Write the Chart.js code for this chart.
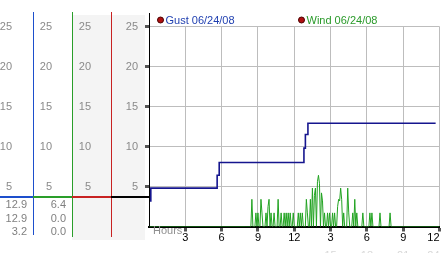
<!DOCTYPE html>
<html>
<head>
<meta charset="utf-8">
<script src="https://cdn.jsdelivr.net/npm/chart.js@4"></script>
<style>
  html, body { margin: 0; padding: 0; background: #fff; }
  #wrap { position: relative; width: 442px; height: 253px; }
</style>
</head>
<body>
<div id="wrap"><canvas id="chart"></canvas></div>
<script>
const gustLabel = "Gust 06/24/08";
const windLabel = "Wind 06/24/08";

// gust is a step line: hour where it changes -> new value
const gustHours = [0, 0.15, 5.63, 5.8, 12.8, 12.92, 13.13, 23.68];
const gustSpeeds = [3.2, 4.8, 6.4, 8.0, 9.8, 11.5, 12.9, 12.9];

// wind samples every 5 minutes starting 08:00, one row per hour
const windStartHour = 8;
const windStepHours = 5 / 60;
const windSamples = [
  0, 0, 0, 0, 0, 0, 3.4, 0, 0, 0, 1.7, 0,
  1.7, 0, 0, 3.4, 1.7, 0, 0, 0, 1.7, 0, 2.5, 3.4,
  0, 1.7, 0, 0, 1.7, 0, 0, 0, 3.4, 0, 0, 1.7,
  0, 0, 1.7, 0, 1.7, 0, 1.7, 0, 1.7, 0, 0, 1.7,
  0, 0, 0, 0, 1.7, 0, 1.7, 0, 1.7, 0, 0, 0,
  3.4, 1.7, 0, 0, 3.4, 0, 4.8, 0, 3.9, 4.8, 0, 5.6,
  6.4, 5.4, 0, 4.2, 3.2, 0, 1.7, 0, 0, 1.7, 0, 1.7,
  0, 0, 1.7, 0, 1.7, 0, 0, 2.5, 3.4, 3.2, 4.8, 3.4,
  0, 1.7, 0, 0, 0, 4.8, 1.7, 0, 0, 0, 1.7, 0,
  3.4, 0, 1.7, 0, 0, 0, 0, 0, 1.7, 0, 0, 0,
  0, 0, 0, 1.7, 0, 1.7, 0, 0, 0, 0, 0, 0,
  0, 1.7, 0, 0, 0, 0, 0, 0, 0, 0, 0, 1.7,
  0, 0, 0, 0, 0, 0, 0, 0, 0, 0, 0, 0,
];
// calm wind before and after the sampled stretch
const windCalmHours = [0, 24];
const windCalmSpeeds = [0, 0];

const yTickLabels = ["", "5", "10", "15", "20", "25"];
const hourTickLabels = ["", "3", "6", "9", "12", "3", "6", "9", "12"];
const clockTickLabels = ["", "", "", "", "", "15", "18", "21", "24"];

const gustPoints = gustHours.map((h, i) => ({ x: h, y: gustSpeeds[i] }));
const windPoints = [
  { x: windCalmHours[0], y: windCalmSpeeds[0] },
  ...windSamples.map((v, i) => ({ x: windStartHour + i * windStepHours, y: v })),
  { x: windCalmHours[1], y: windCalmSpeeds[1] },
];

// max / latest / min readouts under the scales
const windSpeeds = windPoints.map((p) => p.y);
const readouts = [
  [Math.max(...gustSpeeds), gustSpeeds[gustSpeeds.length - 1], Math.min(...gustSpeeds)],
  [Math.max(...windSpeeds), windSpeeds[windSpeeds.length - 1], Math.min(...windSpeeds)],
];

Chart.defaults.font.family = "'Liberation Sans', Arial, sans-serif";
Chart.defaults.font.size = 11;

const hideFirst = (color) => (c) => (c.index === 0 ? "rgba(0,0,0,0)" : color);

function sideAxis(weight, width, pad) {
  return {
    type: "linear",
    position: "left",
    weight,
    min: 0,
    max: 25,
    grid: { display: false },
    border: { display: false },
    ticks: {
      stepSize: 5,
      padding: pad,
      color: "#8a8a8a",
      callback: (v, i) => yTickLabels[i],
    },
    afterFit: (s) => { s.width = width; },
  };
}

const sidePanel = {
  id: "sidePanel",
  beforeDraw(chart) {
    const { ctx, scales, chartArea } = chart;
    ctx.save();
    ctx.fillStyle = "#f4f4f4";
    ctx.fillRect(scales.y3.left, 15, chartArea.left - 4 - scales.y3.left, 225);
    ctx.restore();
  },
  afterDraw(chart) {
    const { ctx, scales, chartArea } = chart;
    const cols = [
      { s: scales.y1, color: "#1d4fcc", bottom: 235 },
      { s: scales.y2, color: "#2a9e2a", bottom: 237 },
      { s: scales.y3, color: "#c82222", bottom: 237 },
      { s: scales.y, color: "#000000", bottom: chartArea.bottom },
    ];
    ctx.save();
    cols.forEach((c, i) => {
      const x = Math.round(c.s.right) + 0.5;
      ctx.strokeStyle = c.color;
      ctx.lineWidth = 1;
      ctx.beginPath();
      ctx.moveTo(x, i === 3 ? 13 : 12);
      ctx.lineTo(x, c.bottom);
      ctx.stroke();
    });

    const sepY = Math.round(chartArea.bottom - 30);
    cols.forEach((c) => {
      ctx.strokeStyle = c.color;
      ctx.lineWidth = 2;
      ctx.beginPath();
      ctx.moveTo(c.s.left, sepY);
      ctx.lineTo(c.s.right + 1, sepY);
      ctx.stroke();
    });

    ctx.font = "11px 'Liberation Sans', Arial, sans-serif";
    ctx.fillStyle = "#808080";
    ctx.textAlign = "right";
    ctx.textBaseline = "middle";
    const rowY = [chartArea.bottom - 21.5, chartArea.bottom - 8, chartArea.bottom + 5.5];
    [scales.y1, scales.y2].forEach((s, k) => {
      readouts[k].forEach((v, r) => ctx.fillText(v.toFixed(1), s.right - 6, rowY[r]));
    });

    ctx.textAlign = "left";
    ctx.fillStyle = "#909090";
    ctx.fillText("Hours", chartArea.left + 4, chartArea.bottom + 4.5);

    const legend = [
      { text: gustLabel, color: "#1f3fb0", x: chartArea.left + 11.5 },
      { text: windLabel, color: "#2a9a2a", x: chartArea.left + 152.5 },
    ];
    legend.forEach((l) => {
      ctx.beginPath();
      ctx.arc(l.x, 20, 3, 0, Math.PI * 2);
      ctx.fillStyle = "#b01010";
      ctx.fill();
      ctx.strokeStyle = "#4a0000";
      ctx.lineWidth = 1;
      ctx.stroke();
      ctx.fillStyle = l.color;
      ctx.fillText(l.text, l.x + 5, 20.5);
    });
    ctx.restore();
  },
};

new Chart(document.getElementById("chart"), {
  type: "line",
  data: {
    datasets: [
      {
        label: gustLabel,
        data: gustPoints,
        borderColor: "#15158e",
        borderWidth: 1.6,
        stepped: "before",
        pointRadius: 0,
        fill: false,
      },
      {
        label: windLabel,
        data: windPoints,
        borderColor: "#22a322",
        borderWidth: 1,
        pointRadius: 0,
        tension: 0,
        fill: false,
      },
    ],
  },
  options: {
    responsive: true,
    maintainAspectRatio: false,
    animation: false,
    devicePixelRatio: 1,
    layout: { padding: { top: 26.5, right: 2.5, bottom: 0, left: 0 } },
    plugins: { legend: { display: false }, tooltip: { enabled: false } },
    scales: {
      x: {
        type: "linear",
        position: "bottom",
        weight: 0,
        min: 0,
        max: 24,
        grid: {
          color: "#bdbdbd",
          tickLength: 5,
          tickWidth: 3,
          tickColor: hideFirst("#555"),
        },
        border: { color: "#000", width: 2 },
        ticks: {
          stepSize: 3,
          padding: 0,
          align: "inner",
          color: "#000",
          autoSkip: false,
          maxRotation: 0,
          callback: (v, i) => hourTickLabels[i],
        },
        afterFit: (s) => { s.height = 14.5; s.paddingLeft = 0; s.paddingRight = 0; },
      },
      x2: {
        type: "linear",
        position: "bottom",
        weight: 1,
        min: 0,
        max: 24,
        grid: { display: false },
        border: { display: false },
        ticks: {
          stepSize: 3,
          padding: 0,
          align: "inner",
          color: "#d8d8d8",
          autoSkip: false,
          maxRotation: 0,
          callback: (v, i) => clockTickLabels[i],
        },
        afterFit: (s) => { s.height = 12; s.paddingLeft = 0; s.paddingRight = 0; },
      },
      y: {
        type: "linear",
        position: "left",
        weight: 0,
        min: 0,
        max: 25,
        grid: {
          color: "#bdbdbd",
          tickLength: 4,
          tickWidth: 3,
          tickColor: hideFirst("#555"),
        },
        border: { display: false },
        ticks: {
          stepSize: 5,
          padding: 7,
          color: "#8a8a8a",
          callback: (v, i) => yTickLabels[i],
        },
        afterFit: (s) => { s.width = 38; },
      },
      y3: sideAxis(1, 39, 12),
      y2: sideAxis(2, 39, 12),
      y1: sideAxis(3, 33, 13),
    },
  },
  plugins: [sidePanel],
});
</script>
</body>
</html>
